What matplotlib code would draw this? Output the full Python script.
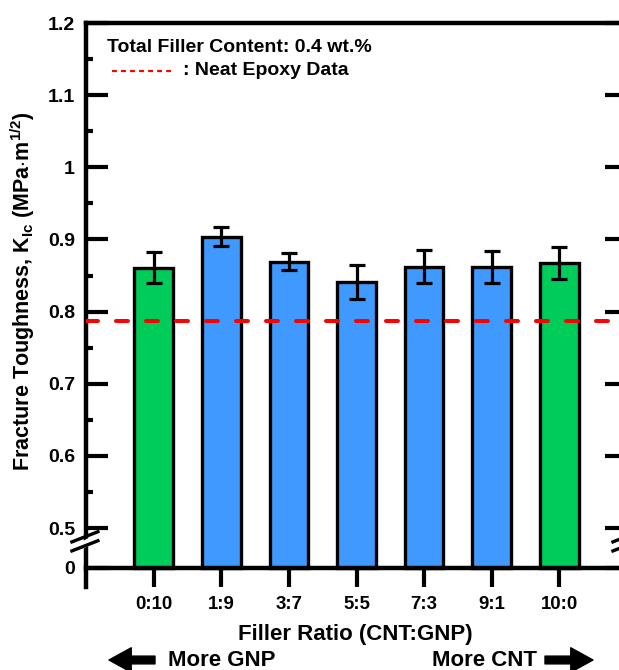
import numpy as np
import matplotlib
matplotlib.use("Agg")
import matplotlib.pyplot as plt
from matplotlib.lines import Line2D
from matplotlib.patches import FancyArrowPatch

plt.rcParams["font.family"] = ["Liberation Sans", "DejaVu Sans"]
plt.rcParams["font.weight"] = "bold"
plt.rcParams["mathtext.fontset"] = "custom"
plt.rcParams["mathtext.rm"] = "Liberation Sans:bold"
plt.rcParams["mathtext.default"] = "rm"
plt.rcParams["lines.scale_dashes"] = False

# data
ratios = ["0:10", "1:9", "3:7", "5:5", "7:3", "9:1", "10:0"]
toughness = [0.861, 0.904, 0.869, 0.841, 0.862, 0.862, 0.867]
toughness_err = [0.022, 0.013, 0.012, 0.024, 0.023, 0.022, 0.022]
bar_colors = ["#00CC5A", "#4099FF", "#4099FF", "#4099FF", "#4099FF", "#4099FF", "#00CC5A"]
neat_epoxy = 0.787
ytick_vals = [0, 0.5, 0.6, 0.7, 0.8, 0.9, 1.0, 1.1, 1.2]
ytick_labels = ["0", "0.5", "0.6", "0.7", "0.8", "0.9", "1", "1.1", "1.2"]
yminor_vals = [0.55, 0.65, 0.75, 0.85, 0.95, 1.05, 1.15]

# broken axis: 0..0.5 squeezed into a short segment
K = 0.1108


def fwd(y):
    y = np.asarray(y, dtype=float)
    return np.where(y >= 0.5, y, 0.5 + (y - 0.5) * K)


def inv(y):
    y = np.asarray(y, dtype=float)
    return np.where(y >= 0.5, y, 0.5 + (y - 0.5) / K)


fig = plt.figure(figsize=(6.19, 6.70), dpi=100)
W, H = 619, 670
ax = fig.add_axes([86 / W, 83 / H, 541 / W, 564 / H])
ax.set_yscale("function", functions=(fwd, inv))

x = np.arange(len(ratios))
ax.bar(x, toughness, width=0.57, color=bar_colors, edgecolor="black", linewidth=2.4, zorder=2)
ax.errorbar(x, toughness, yerr=toughness_err, fmt="none", ecolor="black",
            elinewidth=2.3, capsize=6, capthick=2.3, zorder=4)
ax.axhline(neat_epoxy, color="#FF0000", lw=2.9, dashes=(8.6, 13), dash_capstyle="round", zorder=3)

ax.set_xlim(-1, 7)
ax.set_ylim(-0.238, 1.2)

ax.set_yticks(ytick_vals)
ax.set_yticklabels(ytick_labels)
ax.set_yticks(yminor_vals, minor=True)
ax.set_xticks(x)
ax.set_xticklabels(ratios)

ax.spines["bottom"].set_position(("data", 0))
for s in ax.spines.values():
    s.set_linewidth(3.2)

ax.tick_params(axis="y", which="major", direction="in", length=16, width=3, labelsize=14,
               pad=8, right=True)
ax.tick_params(axis="y", which="minor", direction="in", length=5, width=3, right=True)
ax.tick_params(axis="x", which="major", direction="out", length=14, width=3, labelsize=13.4, pad=6)

ax.set_ylabel(r"Fracture Toughness, K$_{Ic}$ (MPa$\cdot$m$^{1/2}$)", fontsize=15.5, fontweight="bold")
ax.yaxis.set_label_coords(-0.09, 0.525)
ax.set_xlabel("Filler Ratio (CNT:GNP)", fontsize=16, fontweight="bold")
ax.xaxis.set_label_coords(0.497, -0.066)

# axis break marks
for xc in (0.0, 1.0):
    ax.add_line(Line2D([xc - 0.024, xc + 0.024], [0.065, 0.09], transform=ax.transAxes,
                       color="white", lw=5, clip_on=False, zorder=5))
    for yo in (0.0, 0.016):
        ax.add_line(Line2D([xc - 0.026, xc + 0.022], [0.064 + yo, 0.082 + yo], transform=ax.transAxes,
                           color="black", lw=2.4, clip_on=False, zorder=6))

# in-plot notes
ax.text(0.039, 0.957, "Total Filler Content: 0.4 wt.%", transform=ax.transAxes,
        fontsize=14, fontweight="bold", va="center", ha="left")
ax.add_line(Line2D([0.048, 0.162], [0.915, 0.915], transform=ax.transAxes, color="#FF0000",
                   lw=1.6, dashes=(3.5, 3)))
ax.text(0.18, 0.915, ": Neat Epoxy Data", transform=ax.transAxes,
        fontsize=14, fontweight="bold", va="center", ha="left")

# direction arrows under the x label
ty = 1 - 660 / H
fig.text(168 / W, ty, "More GNP", fontsize=16, fontweight="bold", va="center", ha="left")
fig.text(537 / W, ty, "More CNT", fontsize=16, fontweight="bold", va="center", ha="right")
arrow = dict(arrowstyle="simple,head_width=1.1,head_length=1.0,tail_width=0.35",
             color="black", mutation_scale=16, shrinkA=0, shrinkB=0)
fig.add_artist(FancyArrowPatch((155 / W, ty), (109 / W, ty), transform=fig.transFigure, **arrow))
fig.add_artist(FancyArrowPatch((545 / W, ty), (593 / W, ty), transform=fig.transFigure, **arrow))

fig.savefig("out.png", dpi=100)
